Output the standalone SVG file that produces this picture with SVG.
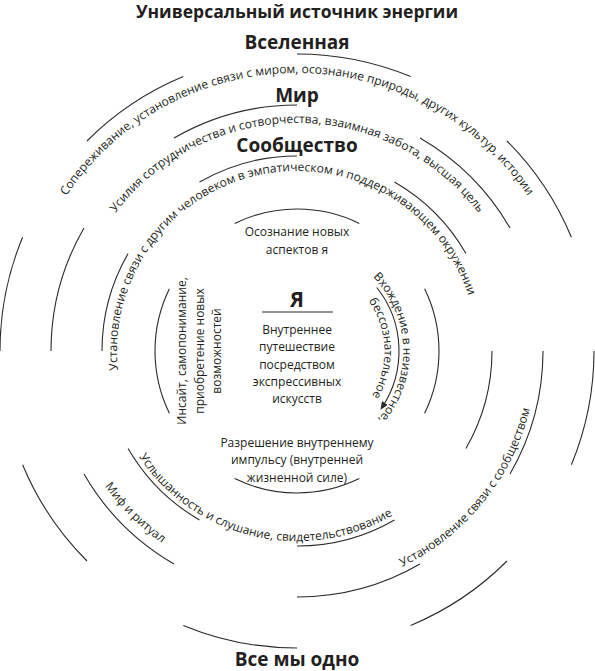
<svg xmlns="http://www.w3.org/2000/svg" xmlns:xlink="http://www.w3.org/1999/xlink" width="595" height="671" viewBox="0 0 595 671">
<style>
.arc{fill:none;stroke:#2b2b2b;stroke-width:1.1}
.t{font-family:"Open Sans","Noto Sans",sans-serif;font-size:12px;fill:#231f20}
.h{font-family:"Open Sans","Noto Sans",sans-serif;font-size:19px;font-weight:bold;fill:#231f20;text-anchor:middle}
.c{text-anchor:middle}
</style>
<defs>
<path id="p1" d="M19,351 A278,278 0 0 1 575,351"/>
<path id="p2" d="M69,351 A228,228 0 0 1 525,351"/>
<path id="p3" d="M120.9,388.4 A180,180 0 0 1 473.1,313.6"/>
<path id="p4" d="M108.8,324.6 A190,190 0 0 0 477.7,409.7"/>
<path id="p5" d="M101.2,213.9 A240,240 0 0 0 434.1,546.8"/>
<path id="p6" d="M180.6,560.9 A240,240 0 0 0 478.1,193.5"/>
<path id="p7" d="M302.5,245.1 A106,106 0 0 1 309.9,456.2"/>
<path id="p8" d="M301.6,264.1 A87,87 0 0 1 307.6,437.4"/>
<marker id="ah" markerUnits="userSpaceOnUse" markerWidth="8" markerHeight="7" refX="6" refY="3.5" orient="auto">
<path d="M0,0 L8,3.5 L0,7 z" fill="#2b2b2b"/>
</marker>
</defs>

<g id="headings">
<text class="h" x="297" y="18" style="font-size:17.5px">Универсальный источник энергии</text>
<text class="h" x="297" y="49">Вселенная</text>
<text class="h" x="297" y="102">Мир</text>
<text class="h" x="297" y="152">Сообщество</text>
<text class="h" x="297" y="666">Все мы одно</text>
</g>

<g id="ring4">
<path class="arc" d="M594,351 A297,297 0 0 1 571.4,464.7"/>
<path class="arc" d="M507,561 A297,297 0 0 1 410.7,625.4"/>
<path class="arc" d="M297,648 A297,297 0 0 1 183.3,625.4"/>
<path class="arc" d="M87,561 A297,297 0 0 1 22.6,464.7"/>
<path class="arc" d="M0,351 A297,297 0 0 1 22.6,237.3"/>
<path class="arc" d="M87,141 A297,297 0 0 1 183.3,76.6"/>
<path class="arc" d="M297,54 A297,297 0 0 1 410.7,76.6"/>
<path class="arc" d="M507,141 A297,297 0 0 1 571.4,237.3"/>
</g>

<g id="ring3">
<path class="arc" d="M543,351 A246,246 0 0 1 510,474"/>
<path class="arc" d="M420,564 A246,246 0 0 1 297,597"/>
<path class="arc" d="M174,564 A246,246 0 0 1 84,474"/>
<path class="arc" d="M51,351 A246,246 0 0 1 84,228"/>
<path class="arc" d="M174,138 A246,246 0 0 1 297,105"/>
<path class="arc" d="M420,138 A246,246 0 0 1 510,228"/>
</g>

<g id="ring2">
<path class="arc" d="M492,351 A195,195 0 0 1 465.9,448.5"/>
<path class="arc" d="M394.5,519.9 A195,195 0 0 1 297,546"/>
<path class="arc" d="M199.5,519.9 A195,195 0 0 1 128.1,448.5"/>
<path class="arc" d="M102,351 A195,195 0 0 1 128.1,253.5"/>
<path class="arc" d="M199.5,182.1 A195,195 0 0 1 297,156"/>
<path class="arc" d="M394.5,182.1 A195,195 0 0 1 465.9,253.5"/>
</g>

<g id="ring1">
<path class="arc" d="M424.6,288.7 A142,142 0 0 1 424.6,413.3"/>
<path class="arc" d="M359.3,478.6 A142,142 0 0 1 234.7,478.6"/>
<path class="arc" d="M169.4,413.3 A142,142 0 0 1 169.4,288.7"/>
<path class="arc" d="M234.7,223.4 A142,142 0 0 1 359.3,223.4"/>
</g>

<g id="universe-label">
<text class="t c"><textPath xlink:href="#p1" href="#p1" startOffset="50%">Сопереживание, установление связи с миром, осознание природы, других культур, истории</textPath></text>
</g>
<g id="world-label">
<text class="t c"><textPath xlink:href="#p2" href="#p2" startOffset="50%">Усилия сотрудничества и сотворчества, взаимная забота, высшая цель</textPath></text>
</g>
<g id="community-label">
<text class="t c"><textPath xlink:href="#p3" href="#p3" startOffset="50%">Установление связи с другим человеком в эмпатическом и поддерживающем окружении</textPath></text>
</g>
<g id="listening-label">
<text class="t c"><textPath xlink:href="#p4" href="#p4" startOffset="50%">Услышанность и слушание, свидетельствование</textPath></text>
</g>
<g id="myth-label">
<text class="t c"><textPath xlink:href="#p5" href="#p5" startOffset="50%">Миф и ритуал</textPath></text>
</g>
<g id="community-connect-label">
<text class="t c"><textPath xlink:href="#p6" href="#p6" startOffset="50%">Установление связи с сообществом</textPath></text>
</g>

<g id="self">
<text class="h" x="297" y="307" style="font-size:21px">Я</text>
<line x1="262" y1="312" x2="333" y2="312" stroke="#2b2b2b" stroke-width="1.1"/>
<text class="t c" x="297" y="334">Внутреннее</text>
<text class="t c" x="297" y="351.3">путешествие</text>
<text class="t c" x="297" y="368.6">посредством</text>
<text class="t c" x="297" y="386">экспрессивных</text>
<text class="t c" x="297" y="403">искусств</text>
</g>

<g id="awareness">
<text class="t c" x="297" y="236">Осознание новых</text>
<text class="t c" x="297" y="254">аспектов я</text>
</g>

<g id="resolution">
<text class="t c" x="297" y="447">Разрешение внутреннему</text>
<text class="t c" x="297" y="464.3">импульсу (внутренней</text>
<text class="t c" x="297" y="481.6">жизненной силе)</text>
</g>

<g id="insight">
<text class="t c" transform="translate(186,351) rotate(-90)"><tspan x="0" y="0">Инсайт, самопонимание,</tspan><tspan x="0" y="17.5">приобретение новых</tspan><tspan x="0" y="35">возможностей</tspan></text>
</g>

<g id="unknown">
<text class="t c"><textPath xlink:href="#p7" href="#p7" startOffset="50%">Вхождение в неизвестное,</textPath></text>
<text class="t c"><textPath xlink:href="#p8" href="#p8" startOffset="50%">бессознательное</textPath></text>
</g>

<g id="connectors">
<path class="arc" d="M376.8,287.5 A102,102 0 0 1 381.6,408" marker-end="url(#ah)"/>
</g>
</svg>
